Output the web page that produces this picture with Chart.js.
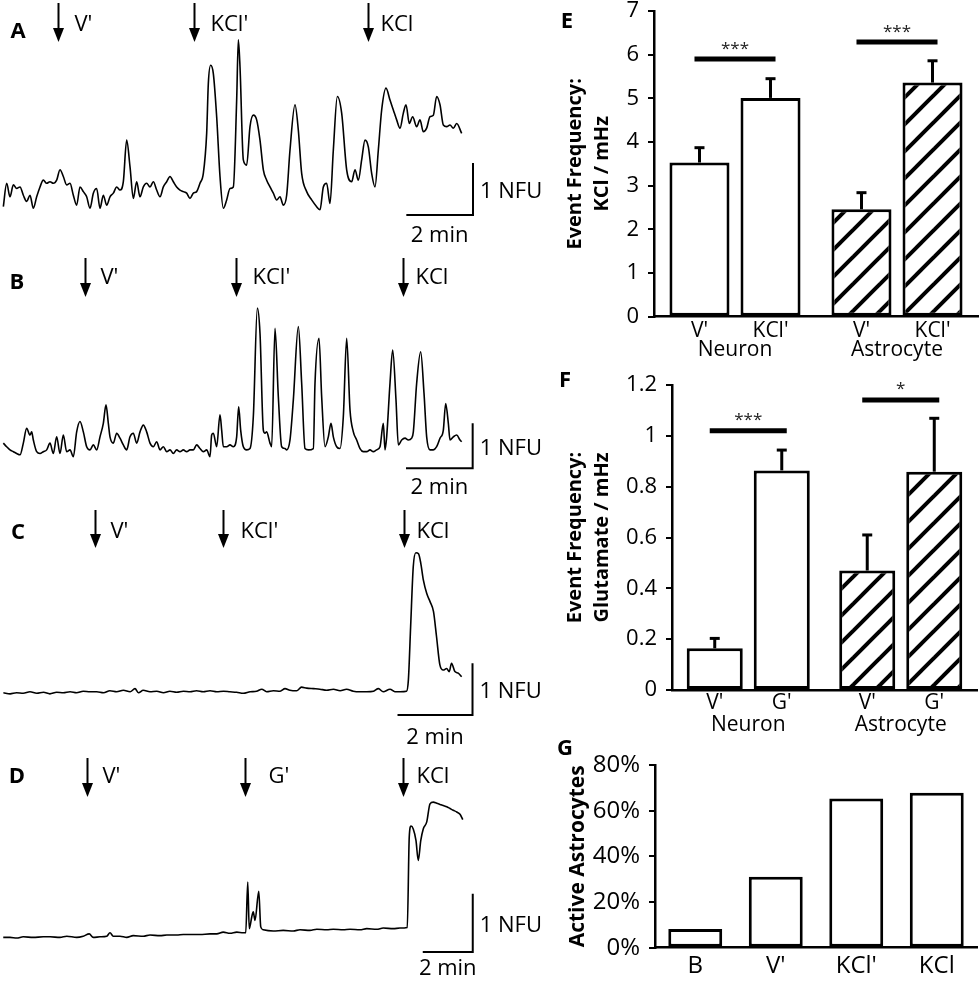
<!DOCTYPE html>
<html><head><meta charset="utf-8">
<script src="https://cdn.jsdelivr.net/npm/chart.js@4.4.0/dist/chart.umd.min.js"></script>
<style>
html,body{margin:0;padding:0;background:#fff}
body{width:980px;height:984px;position:relative;overflow:hidden}
canvas{position:absolute}
</style></head>
<body>
<canvas id="cA" width="560" height="250" style="left:0;top:0"></canvas>
<canvas id="cB" width="560" height="250" style="left:0;top:250px"></canvas>
<canvas id="cC" width="560" height="250" style="left:0;top:500px"></canvas>
<canvas id="cD" width="560" height="234" style="left:0;top:750px"></canvas>
<canvas id="cE" width="425" height="377" style="left:555px;top:-12px"></canvas>
<canvas id="cF" width="425" height="378" style="left:555px;top:362px"></canvas>
<canvas id="cG" width="425" height="244" style="left:555px;top:740px"></canvas>
<script>
// ---------- DATA ----------
// Trace A (time in min, signal in NFU)
const A_time = [0.10,0.20,0.30,0.40,0.50,0.60,0.70,0.80,0.90,1.00,1.10,1.20,1.30,1.40,1.50,1.60,1.70,1.80,1.90,2.00,2.10,2.20,2.30,2.40,2.50,2.60,2.70,2.80,2.90,3.00,3.10,3.20,3.30,3.40,3.50,3.60,3.70,3.80,3.90,4.00,4.10,4.20,4.30,4.40,4.50,4.60,4.70,4.80,4.90,5.00,5.10,5.20,5.30,5.40,5.50,5.60,5.70,5.80,5.90,6.00,6.10,6.20,6.25,6.32,6.40,6.50,6.60,6.70,6.80,6.90,7.00,7.10,7.15,7.20,7.30,7.40,7.50,7.60,7.70,7.80,7.90,8.00,8.10,8.20,8.30,8.40,8.50,8.60,8.70,8.85,8.95,9.05,9.20,9.35,9.50,9.60,9.70,9.80,9.90,10.00,10.12,10.25,10.40,10.55,10.65,10.75,10.85,10.95,11.05,11.15,11.25,11.35,11.45,11.58,11.70,11.80,11.90,12.00,12.10,12.18,12.28,12.38,12.50,12.60,12.70,12.80,12.90,13.00,13.10,13.20,13.30,13.40,13.50,13.60,13.70,13.85];
const A_nfu = [0.16,0.61,0.35,0.58,0.51,0.54,0.38,0.26,0.38,0.13,0.35,0.54,0.67,0.61,0.64,0.61,0.67,0.87,0.74,0.58,0.61,0.38,0.19,0.54,0.45,0.35,0.13,0.42,0.51,0.13,0.38,0.19,0.35,0.42,0.54,0.48,0.64,1.44,0.93,0.32,0.64,0.35,0.54,0.61,0.54,0.64,0.48,0.35,0.54,0.64,0.74,0.64,0.54,0.48,0.45,0.42,0.32,0.42,0.45,0.61,0.80,1.57,2.53,2.88,2.72,1.89,0.74,0.13,0.29,0.51,0.54,2.21,3.37,2.85,1.06,0.96,1.70,1.92,1.83,1.44,0.87,0.67,0.54,0.42,0.29,0.35,0.19,0.38,1.25,2.12,1.63,0.80,0.45,0.29,0.16,0.10,0.54,0.61,0.22,1.25,2.28,1.96,0.87,0.64,0.87,0.67,1.06,1.44,1.31,0.80,0.54,1.25,2.02,2.44,2.21,2.02,1.83,1.67,1.96,2.12,1.76,1.89,1.70,1.83,1.60,1.67,1.89,1.92,2.28,2.12,1.73,1.70,1.73,1.67,1.76,1.57];
const A_events = ["V'", "KCl'", "KCl"];
const A_eventTimes = [1.75, 5.83, 11.03];

// Trace B
const B_time = [0.10,0.20,0.30,0.40,0.50,0.60,0.70,0.80,0.90,0.95,1.00,1.10,1.20,1.30,1.40,1.50,1.60,1.70,1.80,1.90,2.00,2.10,2.20,2.30,2.40,2.50,2.60,2.70,2.80,2.90,3.00,3.10,3.18,3.25,3.30,3.40,3.50,3.60,3.70,3.80,3.90,4.00,4.10,4.20,4.30,4.40,4.50,4.60,4.70,4.80,4.90,5.00,5.10,5.20,5.30,5.40,5.50,5.60,5.70,5.80,5.90,6.00,6.10,6.20,6.30,6.35,6.40,6.50,6.60,6.65,6.70,6.80,6.90,7.00,7.10,7.16,7.22,7.30,7.40,7.50,7.60,7.72,7.80,7.90,7.95,8.00,8.10,8.15,8.25,8.35,8.45,8.55,8.60,8.70,8.80,8.95,9.05,9.15,9.25,9.40,9.45,9.57,9.65,9.75,9.85,9.93,10.00,10.10,10.20,10.30,10.40,10.50,10.60,10.70,10.80,10.90,11.00,11.10,11.20,11.30,11.40,11.50,11.55,11.60,11.70,11.78,11.88,11.95,12.05,12.15,12.25,12.35,12.40,12.50,12.62,12.72,12.80,12.90,13.00,13.10,13.20,13.30,13.37,13.45,13.50,13.60,13.70,13.80,13.85];
const B_nfu = [0.56,0.48,0.41,0.37,0.33,0.30,0.56,0.89,0.74,0.81,0.63,0.37,0.33,0.37,0.41,0.56,0.33,0.70,0.33,0.74,0.37,0.41,0.26,0.81,1.04,0.81,0.48,0.41,0.52,0.41,0.70,1.00,1.41,1.00,0.70,0.56,0.78,0.67,0.52,0.41,0.70,0.78,0.56,0.81,0.96,0.81,0.56,0.48,0.59,0.41,0.48,0.37,0.41,0.33,0.41,0.37,0.41,0.37,0.41,0.41,0.52,0.44,0.37,0.41,0.26,0.74,0.78,0.48,1.19,0.85,0.48,0.48,0.52,0.48,0.70,1.37,0.85,0.48,0.41,0.44,1.15,3.56,3.00,0.85,0.78,0.81,0.56,0.48,3.11,1.59,0.48,0.44,0.41,0.63,1.52,3.15,1.89,0.44,0.41,0.44,1.89,2.89,1.59,0.48,0.70,1.00,0.70,0.48,0.44,1.15,2.89,1.30,0.81,0.63,0.44,0.37,0.37,0.41,0.37,0.41,0.48,1.00,0.41,0.70,1.89,2.63,1.52,0.52,0.63,0.67,0.63,0.67,0.81,1.89,2.59,1.67,0.70,0.41,0.41,0.48,0.67,0.85,1.44,1.00,0.63,0.70,0.74,0.63,0.59];
const B_events = ["V'", "KCl'", "KCl"];
const B_eventTimes = [2.55, 7.08, 12.08];

// Trace C
const C_time = [0.09,0.27,0.44,0.62,0.80,0.98,1.16,1.33,1.51,1.69,1.87,2.04,2.22,2.40,2.58,2.76,2.93,3.11,3.29,3.47,3.60,3.69,3.82,4.00,4.18,4.36,4.53,4.71,4.89,5.07,5.24,5.42,5.60,5.78,5.96,6.13,6.31,6.49,6.67,6.84,6.98,7.11,7.29,7.47,7.60,7.73,7.91,8.04,8.18,8.36,8.53,8.71,8.89,9.07,9.24,9.42,9.60,9.78,9.96,10.09,10.22,10.40,10.53,10.67,10.84,10.89,10.95,11.02,11.09,11.16,11.22,11.29,11.38,11.47,11.56,11.64,11.73,11.82,11.91,11.98,12.04,12.13,12.22,12.31];
const C_nfu = [0.43,0.41,0.43,0.42,0.45,0.42,0.44,0.41,0.44,0.43,0.45,0.43,0.46,0.45,0.45,0.43,0.47,0.45,0.48,0.45,0.51,0.43,0.48,0.45,0.46,0.43,0.46,0.44,0.46,0.45,0.47,0.45,0.47,0.45,0.46,0.45,0.44,0.42,0.45,0.46,0.50,0.45,0.47,0.46,0.51,0.48,0.47,0.54,0.52,0.51,0.50,0.48,0.50,0.47,0.50,0.46,0.45,0.45,0.46,0.51,0.45,0.50,0.45,0.45,0.46,0.68,1.71,2.87,3.14,3.12,2.94,2.61,2.35,2.19,2.00,1.52,0.97,0.87,0.90,0.84,1.00,0.84,0.81,0.74];
const C_events = ["V'", "KCl'", "KCl"];
const C_eventTimes = [2.53, 5.94, 10.77];

// Trace D
const D_time = [0.13,0.40,0.67,0.93,1.33,1.73,2.00,2.40,2.67,3.07,3.33,3.57,3.73,4.00,4.27,4.40,4.53,4.80,5.07,5.33,5.73,6.00,6.40,6.67,7.07,7.33,7.73,8.00,8.40,8.67,8.93,9.20,9.47,9.73,9.83,9.91,9.97,10.07,10.13,10.20,10.35,10.43,10.53,10.93,11.33,11.73,12.00,12.40,12.67,13.07,13.33,13.73,14.00,14.40,14.67,15.07,15.33,15.73,16.00,16.29,16.37,16.44,16.53,16.64,16.73,16.83,16.93,17.07,17.20,17.33,17.47,17.60,17.73,17.87,18.00,18.13,18.27,18.40,18.51];
const D_nfu = [0.25,0.25,0.24,0.26,0.25,0.26,0.26,0.25,0.27,0.25,0.27,0.31,0.25,0.26,0.27,0.33,0.27,0.27,0.25,0.28,0.27,0.29,0.28,0.29,0.29,0.30,0.30,0.30,0.31,0.31,0.34,0.32,0.34,0.33,0.33,1.20,0.40,0.60,0.69,0.54,1.04,0.43,0.38,0.36,0.37,0.36,0.38,0.37,0.39,0.38,0.39,0.38,0.39,0.38,0.40,0.39,0.41,0.40,0.41,0.42,1.97,2.16,2.11,1.91,1.57,1.91,2.11,2.23,2.54,2.57,2.55,2.53,2.51,2.49,2.46,2.43,2.40,2.36,2.27];
const D_events = ["V'", "G'", "KCl"];
const D_eventTimes = [3.47, 9.80, 16.13];

const scaleBarText = ["1 NFU", "2 min"];

// Panel E: KCl event frequency (mHz)
const E_groups = ["Neuron", "Astrocyte"];
const E_conditions = ["V'", "KCl'"];
const E_vPrime = [3.53, 2.46];
const E_kclPrime = [5.01, 5.36];
const E_vPrimeErr = [0.34, 0.38];
const E_kclPrimeErr = [0.44, 0.50];
const E_sigText = ["***", "***"];
const E_sigLevel = [5.90, 6.29];
const E_yTicks = [0, 7, 1];

// Panel F: glutamate event frequency (mHz)
const F_groups = ["Neuron", "Astrocyte"];
const F_conditions = ["V'", "G'"];
const F_vPrime = [0.164, 0.47];
const F_gPrime = [0.864, 0.859];
const F_vPrimeErr = [0.039, 0.14];
const F_gPrimeErr = [0.08, 0.21];
const F_sigText = ["***", "*"];
const F_sigLevel = [1.02, 1.141];
const F_yTicks = [0, 1.2, 0.2];

// Panel G: active astrocytes (%)
const G_categories = ["B", "V'", "KCl'", "KCl"];
const G_active = [8.2, 31.1, 65.3, 67.9];
const G_yTicks = [0, 80, 20];

// ---------- STYLE / PLUGINS ----------
Chart.defaults.font.family = "'Open Sans', sans-serif";
Chart.defaults.color = '#000';
const FONT = "'Open Sans', sans-serif";

const panelLetter = {
  id: 'panelLetter',
  afterDraw(chart, args, o) {
    const ctx = chart.ctx;
    ctx.save();
    ctx.fillStyle = '#000';
    ctx.font = "bold 22px " + FONT;
    ctx.textAlign = 'center'; ctx.textBaseline = 'middle';
    ctx.fillText(o.text, o.x, o.y);
    ctx.restore();
  }
};

const traceDecor = {
  id: 'traceDecor',
  afterDatasetsDraw(chart, args, o) {
    const {ctx, scales: {x, y}} = chart;
    ctx.save();
    ctx.fillStyle = '#000'; ctx.strokeStyle = '#000';
    ctx.font = "22px " + FONT;
    ctx.textBaseline = 'middle'; ctx.textAlign = 'left';
    o.times.forEach((t, i) => {
      const px = Math.round(x.getPixelForValue(t)) + 0.5;
      ctx.lineWidth = 2;
      ctx.beginPath(); ctx.moveTo(px, o.arrowTop); ctx.lineTo(px, o.arrowTip - 12); ctx.stroke();
      ctx.beginPath();
      ctx.moveTo(px - 5.5, o.arrowTip - 14); ctx.lineTo(px + 5.5, o.arrowTip - 14); ctx.lineTo(px, o.arrowTip);
      ctx.closePath(); ctx.fill();
      ctx.fillText(o.labels[i], px + o.labelDx[i], o.labelY);
    });
    const xr = x.getPixelForValue(o.barEnd), xl = x.getPixelForValue(o.barEnd - 2);
    const y0 = y.getPixelForValue(0), y1 = y.getPixelForValue(1);
    ctx.lineWidth = 2;
    ctx.beginPath(); ctx.moveTo(xl, y0); ctx.lineTo(xr, y0); ctx.lineTo(xr, y1); ctx.stroke();
    ctx.fillText(scaleBarText[0], xr + 7, (y0 + y1) / 2 + 3);
    ctx.textAlign = 'center';
    ctx.fillText(scaleBarText[1], (xl + xr) / 2, y0 + o.minDy);
    ctx.restore();
  }
};

function traceChart(id, t, v, o) {
  const pts = t.map((tt, i) => ({x: tt, y: v[i]}));
  return new Chart(document.getElementById(id), {
    type: 'line',
    data: {datasets: [{data: pts, borderColor: '#000', borderWidth: 1.6, pointRadius: 0, cubicInterpolationMode: 'monotone', fill: false}]},
    options: {
      responsive: false, animation: false, events: [], devicePixelRatio: 1,
      layout: {padding: 0},
      plugins: {legend: {display: false}, tooltip: {enabled: false},
        traceDecor: o.decor, panelLetter: o.letter},
      scales: {
        x: {type: 'linear', display: false, min: 0, max: o.xmax},
        y: {type: 'linear', display: false, min: o.ymin, max: o.ymax}
      }
    },
    plugins: [traceDecor, panelLetter]
  });
}

traceChart('cA', A_time, A_nfu, {xmax: 16.8, ymin: -0.673, ymax: 4.135,
  letter: {text: 'A', x: 18, y: 32},
  decor: {times: A_eventTimes, labels: A_events, labelDx: [16, 16, 12], arrowTop: 3, arrowTip: 42, labelY: 25, barEnd: 14.19, minDy: 21}});
traceChart('cB', B_time, B_nfu, {xmax: 16.8, ymin: -0.704, ymax: 4.852,
  letter: {text: 'B', x: 17, y: 33},
  decor: {times: B_eventTimes, labels: B_events, labelDx: [15, 16, 12], arrowTop: 8, arrowTip: 47, labelY: 28, barEnd: 14.18, minDy: 19}});
traceChart('cC', C_time, C_nfu, {xmax: 14.933, ymin: -0.677, ymax: 4.161,
  letter: {text: 'C', x: 18, y: 33},
  decor: {times: C_eventTimes, labels: C_events, labelDx: [15, 17, 12], arrowTop: 10, arrowTip: 48, labelY: 32, barEnd: 12.6, minDy: 23}});
traceChart('cD', D_time, D_nfu, {xmax: 22.4, ymin: -0.549, ymax: 3.463,
  letter: {text: 'D', x: 17, y: 27},
  decor: {times: D_eventTimes, labels: D_events, labelDx: [15, 23, 13], arrowTop: 8, arrowTip: 47, labelY: 27, barEnd: 18.91, minDy: 17}});

// hatch tile
const hatchTile = (() => {
  const s = 27, c = document.createElement('canvas');
  c.width = c.height = s;
  const g = c.getContext('2d');
  g.fillStyle = '#fff'; g.fillRect(0, 0, s, s);
  g.strokeStyle = '#000'; g.lineWidth = 4;
  [0, s, 2 * s].forEach(k => { g.beginPath(); g.moveTo(k - s - 5, s + 5); g.lineTo(k + 5, -5); g.stroke(); });
  return c;
})();
const fillFor = (c) => c.dataIndex === 1 ? c.chart.ctx.createPattern(hatchTile, 'repeat') : '#ffffff';

const barDecor = {
  id: 'barDecor',
  afterDatasetsDraw(chart, args, o) {
    const {ctx, scales: {y}} = chart;
    ctx.save();
    ctx.strokeStyle = '#000'; ctx.fillStyle = '#000';
    const metas = chart.data.datasets.map((d, i) => chart.getDatasetMeta(i));
    chart.data.datasets.forEach((ds, di) => {
      metas[di].data.forEach((bar, i) => {
        if (ds.errors) {
          const top = y.getPixelForValue(ds.data[i] + ds.errors[i]);
          ctx.lineWidth = 3;
          ctx.beginPath(); ctx.moveTo(bar.x, bar.y); ctx.lineTo(bar.x, top); ctx.stroke();
          ctx.beginPath(); ctx.moveTo(bar.x - 5, top); ctx.lineTo(bar.x + 5, top); ctx.stroke();
        }
        if (o.barLabels) {
          ctx.font = "21px " + FONT; ctx.textAlign = 'center'; ctx.textBaseline = 'middle';
          ctx.fillText(ds.label, bar.x, chart.chartArea.bottom + o.barLabelDy);
        }
      });
    });
    if (o.sigText) {
      o.sigText.forEach((txt, g) => {
        const x0 = metas[0].data[g].x - 5, x1 = metas[1].data[g].x + 5;
        const yy = y.getPixelForValue(o.sigLevel[g]);
        ctx.lineWidth = 5;
        ctx.beginPath(); ctx.moveTo(x0, yy); ctx.lineTo(x1, yy); ctx.stroke();
        ctx.font = "17px " + FONT; ctx.textAlign = 'center'; ctx.textBaseline = 'alphabetic';
        ctx.fillStyle = '#222';
        ctx.fillText(txt, (x0 + x1) / 2, yy - 5.5);
        ctx.fillStyle = '#000';
      });
    }
    ctx.restore();
  }
};

const tickFmt = v => String(Math.round(v * 10) / 10);

function axisY(ticks, width, title, titleFont, titlePad, tickFont, fmt) {
  return {
    min: ticks[0], max: ticks[1],
    ticks: {stepSize: ticks[2], font: {size: tickFont}, padding: 9, color: '#000', callback: fmt},
    grid: {drawOnChartArea: false, color: '#000', lineWidth: 2, tickLength: 6},
    border: {color: '#000', width: 2.5},
    title: {display: true, text: title, color: '#000', font: {size: titleFont, weight: 'bold', lineHeight: 1.35}, padding: {top: titlePad, bottom: 0}},
    afterFit: s => { s.width = width; }
  };
}
function axisX(height, font, pad) {
  return {
    grid: {display: false, drawTicks: false},
    border: {color: '#000', width: 2.5},
    ticks: {font: {size: font}, padding: pad, color: '#000', maxRotation: 0, autoSkip: false},
    afterFit: s => { s.height = height; }
  };
}

function freqChart(id, p) {
  return new Chart(document.getElementById(id), {
    type: 'bar',
    data: {
      labels: p.groups,
      datasets: p.conds.map((c, k) => ({
        label: c, data: p.values[k], errors: p.errors[k],
        backgroundColor: fillFor, borderColor: '#000', borderWidth: 3, borderSkipped: false,
        categoryPercentage: p.catPct, barPercentage: p.barPct
      }))
    },
    options: {
      responsive: false, animation: false, events: [], devicePixelRatio: 1,
      layout: {padding: p.pad},
      plugins: {legend: {display: false}, tooltip: {enabled: false},
        barDecor: {barLabels: true, barLabelDy: p.barLabelDy, sigText: p.sigText, sigLevel: p.sigLevel},
        panelLetter: p.letter},
      scales: {
        x: axisX(p.xh, 21, p.xpad),
        y: axisY(p.ticks, p.yw, p.title, 20, 6.5, 22, tickFmt)
      }
    },
    plugins: [barDecor, panelLetter]
  });
}

freqChart('cE', {
  groups: E_groups, conds: E_conditions, values: [E_vPrime, E_kclPrime], errors: [E_vPrimeErr, E_kclPrimeErr],
  sigText: E_sigText, sigLevel: E_sigLevel, ticks: E_yTicks,
  title: ['Event Frequency:', 'KCl / mHz'],
  catPct: 0.877, barPct: 0.845, pad: {top: 23, right: 2, left: 0, bottom: 0},
  xh: 48.3, xpad: 21, yw: 99, barLabelDy: 14, letter: {text: 'E', x: 12, y: 34}
});
freqChart('cF', {
  groups: F_groups, conds: F_conditions, values: [F_vPrime, F_gPrime], errors: [F_vPrimeErr, F_gPrimeErr],
  sigText: F_sigText, sigLevel: F_sigLevel, ticks: F_yTicks,
  title: ['Event Frequency:', 'Glutamate / mHz'],
  catPct: 0.879, barPct: 0.836, pad: {top: 23, right: 3, left: 0, bottom: 0},
  xh: 50, xpad: 22, yw: 117, barLabelDy: 13, letter: {text: 'F', x: 10, y: 19}
});

new Chart(document.getElementById('cG'), {
  type: 'bar',
  data: {labels: G_categories, datasets: [{data: G_active, backgroundColor: '#fff', borderColor: '#000', borderWidth: 3, borderSkipped: false, categoryPercentage: 1, barPercentage: 0.67}]},
  options: {
    responsive: false, animation: false, events: [], devicePixelRatio: 1,
    layout: {padding: {top: 25, right: 3, left: 0, bottom: 0}},
    plugins: {legend: {display: false}, tooltip: {enabled: false}, panelLetter: {text: 'G', x: 10, y: 9}},
    scales: {
      x: axisX(36.3, 24, 4),
      y: axisY(G_yTicks, 100, 'Active Astrocytes', 21, 8.4, 24, v => v + '%')
    }
  },
  plugins: [panelLetter]
});
</script>
</body></html>
